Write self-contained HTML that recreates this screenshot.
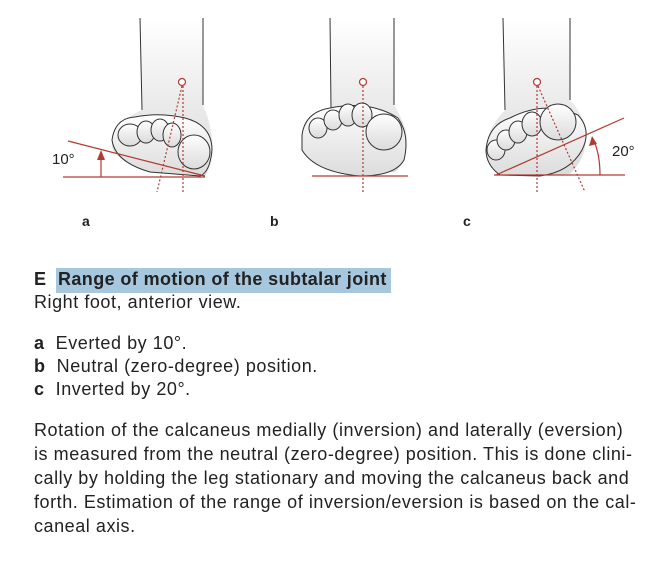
<!DOCTYPE html>
<html><head><style>
body{margin:0;width:655px;height:561px;background:#fff;position:relative;font-family:"Liberation Sans",sans-serif;color:#222;overflow:hidden}
.t{position:absolute;white-space:nowrap;font-size:18px;letter-spacing:0.55px}
.b{font-weight:bold;letter-spacing:0.4px}
</style></head><body>
<svg width="655" height="240" style="position:absolute;left:0;top:0">
<defs><linearGradient id="g" x1="0" y1="0" x2="0" y2="1"><stop offset="0" stop-color="#fff"/><stop offset="0.5" stop-color="#ececec"/><stop offset="1" stop-color="#dcdcdc"/></linearGradient></defs>
<g fill="url(#g)" stroke="#333" stroke-width="1">
<path d="M140 18 L142 110 Q118 120 112 145 Q112 160 150 170 L205 176 Q215 160 212 140 Q210 120 203 105 L203 18" stroke="none"/>
<path d="M140 18 L142 110 M203 18 L203 105" fill="none"/>
<path d="M112 140 Q115 118 135 117 Q160 112 185 118 Q212 125 212 150 Q210 172 200 176 L150 172 Q115 162 112 140Z"/>
<ellipse cx="130" cy="135" rx="12" ry="11"/><ellipse cx="146" cy="132" rx="9" ry="11"/><ellipse cx="160" cy="130" rx="9" ry="11"/><ellipse cx="172" cy="135" rx="9" ry="12"/><ellipse cx="194" cy="152" rx="16" ry="17"/>
<path d="M330 18 L331 108 Q305 118 302 140 Q305 168 345 172 L395 172 Q410 160 406 130 Q398 110 394 105 L394 18" stroke="none"/>
<path d="M330 18 L331 108 M394 18 L394 105" fill="none"/>
<path d="M302 135 Q305 112 330 108 Q370 100 398 118 Q410 135 404 160 Q395 176 360 176 Q315 172 302 150Z"/>
<ellipse cx="318" cy="128" rx="9" ry="10"/><ellipse cx="333" cy="120" rx="9" ry="10"/><ellipse cx="348" cy="115" rx="9" ry="11"/><ellipse cx="362" cy="115" rx="10" ry="12"/><ellipse cx="384" cy="132" rx="18" ry="18"/>
<path d="M503 18 L505 110 Q485 130 486 155 Q495 174 530 176 L570 174 Q590 155 585 125 Q578 108 570 100 L570 18" stroke="none"/>
<path d="M503 18 L505 110 M570 18 L570 100" fill="none"/>
<path d="M486 150 Q488 125 510 118 Q545 100 578 115 Q592 130 582 150 Q570 172 540 176 L500 175 Q486 165 486 150Z"/>
<ellipse cx="496" cy="150" rx="9" ry="10"/><ellipse cx="506" cy="140" rx="9" ry="10"/><ellipse cx="518" cy="132" rx="9" ry="11"/><ellipse cx="532" cy="124" rx="10" ry="12"/><ellipse cx="558" cy="122" rx="18" ry="18"/>
</g>
<g stroke="#b33a32" stroke-width="1.2" fill="none">
<line x1="63" y1="177" x2="205" y2="177"/><line x1="68" y1="141" x2="205" y2="176"/>
<line x1="101" y1="177" x2="101" y2="158"/>
<line x1="183" y1="86" x2="183" y2="193" stroke-dasharray="2,2"/><line x1="182" y1="86" x2="157" y2="192" stroke-dasharray="2,2"/>
<circle cx="182" cy="82" r="3.5" fill="#fff"/>
<line x1="312" y1="176" x2="408" y2="176"/>
<line x1="363" y1="86" x2="363" y2="193" stroke-dasharray="2,2"/>
<circle cx="363" cy="82" r="3.5" fill="#fff"/>
<line x1="494" y1="175" x2="625" y2="175"/><line x1="496" y1="175" x2="624" y2="118"/>
<path d="M600 175 Q600 155 594 141"/>
<line x1="537" y1="86" x2="537" y2="193" stroke-dasharray="2,2"/><line x1="538" y1="86" x2="585" y2="192" stroke-dasharray="2,2"/>
<circle cx="537" cy="82" r="3.5" fill="#fff"/>
</g>
<polygon points="101,150 97,160 105,160" fill="#b33a32"/>
<polygon points="592,136 589,146 597,144" fill="#b33a32"/>
<g font-family="Liberation Sans,sans-serif" font-size="15" fill="#222"><text x="52" y="164">10°</text><text x="612" y="156">20°</text></g>
<g font-family="Liberation Sans,sans-serif" font-size="14" font-weight="bold" fill="#222"><text x="82" y="226">a</text><text x="270" y="226">b</text><text x="463" y="226">c</text></g>
</svg>
<div style="position:absolute;left:56px;top:268px;width:335px;height:25px;background:#a6c7dd"></div>
<div class="t b" style="left:34px;top:269px">E</div>
<div class="t b" style="left:58px;top:269px">Range of motion of the subtalar joint</div>
<div class="t" style="left:34px;top:292px">Right foot, anterior view.</div>
<div class="t" style="left:34px;top:333px"><b>a</b>&nbsp; Everted by 10°.</div>
<div class="t" style="left:34px;top:356px"><b>b</b>&nbsp; Neutral (zero-degree) position.</div>
<div class="t" style="left:34px;top:379px"><b>c</b>&nbsp; Inverted by 20°.</div>
<div class="t" style="left:34px;top:420px">Rotation of the calcaneus medially (inversion) and laterally (eversion)</div>
<div class="t" style="left:34px;top:444px">is measured from the neutral (zero-degree) position. This is done clini-</div>
<div class="t" style="left:34px;top:468px">cally by holding the leg stationary and moving the calcaneus back and</div>
<div class="t" style="left:34px;top:492px">forth. Estimation of the range of inversion/eversion is based on the cal-</div>
<div class="t" style="left:34px;top:516px">caneal axis.</div>
</body></html>
